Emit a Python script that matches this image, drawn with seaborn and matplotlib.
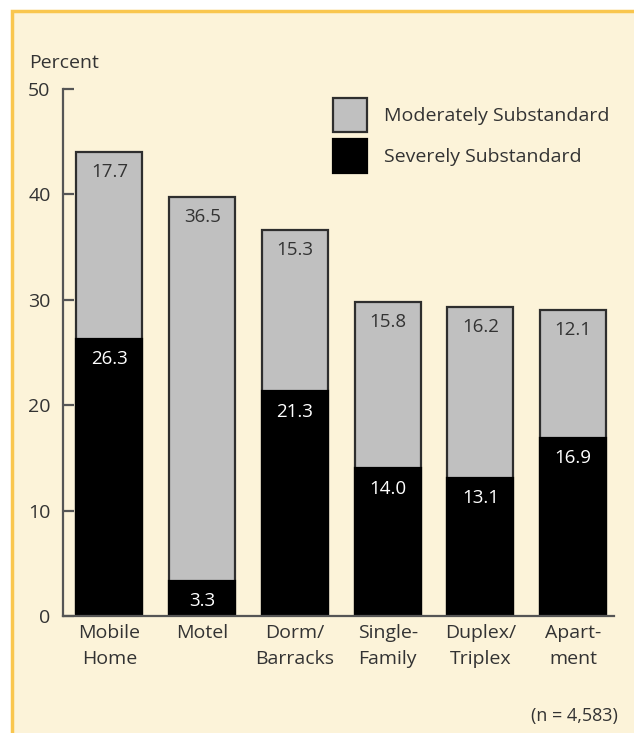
import matplotlib
matplotlib.use("Agg")
import matplotlib.pyplot as plt
from matplotlib.patches import Rectangle, Patch
import seaborn as sns
import pandas as pd

categories = ["Mobile\nHome", "Motel", "Dorm/\nBarracks", "Single-\nFamily", "Duplex/\nTriplex", "Apart-\nment"]
severe = [26.3, 3.3, 21.3, 14.0, 13.1, 16.9]
moderate = [17.7, 36.5, 15.3, 15.8, 16.2, 12.1]
y_ticks = [0, 10, 20, 30, 40, 50]

bg = "#FCF3D9"
border = "#F9C64E"
grey = "#C0C0C0"
text_c = "#333333"
edge_c = "#2E2E2E"

sns.set_theme(style="white")
plt.rcParams["font.family"] = ["Open Sans", "DejaVu Sans"]

df = pd.DataFrame({"cat": categories, "severe": severe, "moderate": moderate})
df["total"] = df["severe"] + df["moderate"]

W, H = 634, 733
fig = plt.figure(figsize=(W / 100, H / 100), dpi=100, facecolor="white")
# cream panel with an orange rule along its top and left edges
fig.patches.append(Rectangle((12 / W, -0.05), 1.0, 1 - 11 / H + 0.05, transform=fig.transFigure,
                             facecolor=bg, edgecolor=border, linewidth=2.5, zorder=-5))

ax = fig.add_axes([63 / W, 1 - 616 / H, (614 - 63) / W, (616 - 89) / H])
ax.set_facecolor("none")

sns.barplot(data=df, x="cat", y="total", color=grey, width=0.71, edgecolor=edge_c,
            linewidth=1.6, saturation=1, ax=ax, zorder=2)
sns.barplot(data=df, x="cat", y="severe", color="black", width=0.71, edgecolor="black",
            linewidth=1.6, saturation=1, ax=ax, zorder=3)

for i, (s, m) in enumerate(zip(severe, moderate)):
    ax.annotate(f"{m:.1f}", (i, s + m), xytext=(0, -8), textcoords="offset points",
                ha="center", va="top", fontsize=13.5, color=text_c, zorder=5)
    ax.annotate(f"{s:.1f}", (i, s), xytext=(0, -8), textcoords="offset points",
                ha="center", va="top", fontsize=13.5, color="white", zorder=5)

ax.set_ylim(0, 50)
ax.set_xlim(-0.5, 5.44)
ax.set_yticks(y_ticks)
ax.set_yticklabels([str(t) for t in y_ticks])
ax.set_xlabel("")
ax.set_ylabel("")
for side in ["top", "right"]:
    ax.spines[side].set_visible(False)
for side in ["left", "bottom"]:
    ax.spines[side].set_color("#555555")
    ax.spines[side].set_linewidth(1.6)
    ax.spines[side].set_zorder(4)
ax.tick_params(axis="y", direction="in", length=8, width=1.6, color="#555555",
               labelsize=14, labelcolor=text_c, pad=9, left=True)
ax.tick_params(axis="x", length=0, labelsize=14, labelcolor=text_c, pad=6)
for lbl in ax.get_xticklabels():
    lbl.set_linespacing(1.55)

fig.text(29 / W, 1 - 63 / H, "Percent", fontsize=14, color=text_c, ha="left", va="center")
fig.text(618 / W, 1 - 716 / H, "(n = 4,583)", fontsize=13, color=text_c, ha="right", va="center")

handles = [Patch(facecolor=grey, edgecolor=edge_c, linewidth=1.6, label="Moderately Substandard"),
           Patch(facecolor="black", edgecolor="black", linewidth=1.6, label="Severely Substandard")]
leg = fig.legend(handles=handles, loc="upper left", bbox_to_anchor=(333 / W, 1 - 98 / H),
                 frameon=False, fontsize=14, handlelength=1.75, handleheight=2.31,
                 labelspacing=0.35, handletextpad=0.85, borderpad=0, borderaxespad=0)
for t in leg.get_texts():
    t.set_color(text_c)

fig.savefig("out.png", dpi=100, facecolor="white")
